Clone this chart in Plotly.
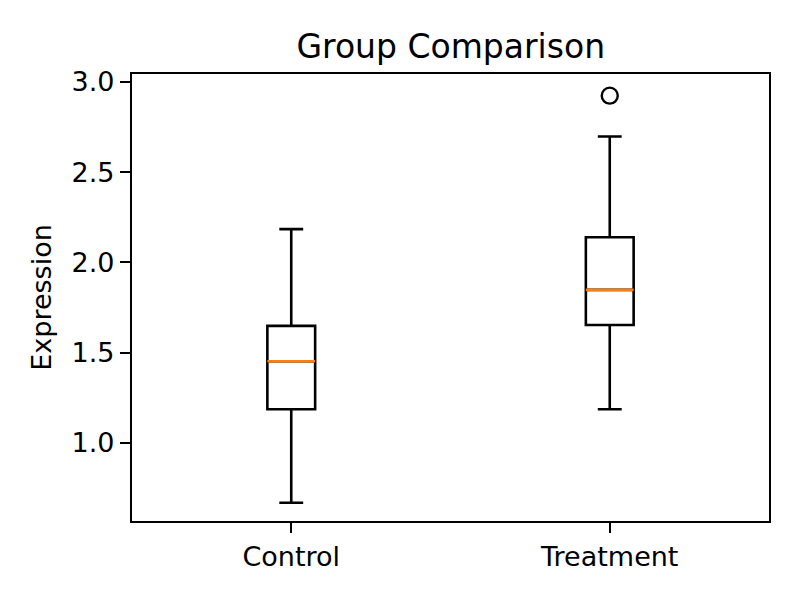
import plotly.graph_objects as go

groups = ["Control", "Treatment"]
positions = [1, 2]
q1 = [1.187, 1.654]
median = [1.453, 1.848]
q3 = [1.649, 2.140]
lower_whisker = [0.669, 1.187]
upper_whisker = [2.185, 2.698]
outlier_group = [2]
outlier_values = [2.924]

box_width = 0.15

fig = go.Figure()
for i, g in enumerate(groups):
    fig.add_trace(go.Box(
        x=[positions[i]], q1=[q1[i]], median=[median[i]], q3=[q3[i]],
        lowerfence=[lower_whisker[i]], upperfence=[upper_whisker[i]],
        width=box_width, whiskerwidth=0.5,
        line=dict(color="black", width=2.6), fillcolor="rgba(0,0,0,0)",
        boxpoints=False, name=g, showlegend=False,
    ))

mx, my = [], []
for i in range(len(groups)):
    mx += [positions[i] - box_width / 2, positions[i] + box_width / 2, None]
    my += [median[i], median[i], None]
fig.add_trace(go.Scatter(x=mx, y=my, mode="lines",
                         line=dict(color="#ff7f0e", width=2.6), showlegend=False,
                         hoverinfo="skip"))
fig.add_trace(go.Scatter(x=outlier_group, y=outlier_values, mode="markers",
                         marker=dict(symbol="circle-open", size=16,
                                     line=dict(color="black", width=2.4), color="black"),
                         showlegend=False))

font = "DejaVu Sans"
fig.update_layout(
    width=800, height=600,
    margin=dict(l=132, r=31, t=74, b=79),
    paper_bgcolor="white", plot_bgcolor="white",
    font=dict(family=font, size=27, color="black"),
    title=dict(text="Group Comparison", x=0.5635, xanchor="center",
               y=0.922, yanchor="middle", font=dict(size=33, family=font)),
)
fig.update_xaxes(range=[0.5, 2.5], tickvals=positions, ticktext=groups,
                 tickfont=dict(size=27, family=font),
                 showline=True, linecolor="black", linewidth=2.2, mirror=True,
                 ticks="outside", ticklen=10, tickwidth=2.2, tickcolor="black",
                 showgrid=False, zeroline=False)
fig.update_yaxes(range=[0.568, 3.044], tickvals=[1.0, 1.5, 2.0, 2.5, 3.0],
                 tickformat=".1f", tickfont=dict(size=27, family=font),
                 showline=True, linecolor="black", linewidth=2.2, mirror=True,
                 ticks="outside", ticklen=10, tickwidth=2.2, tickcolor="black",
                 showgrid=False, zeroline=False,
                 title=dict(text="Expression", standoff=12,
                            font=dict(size=27, family=font)))

fig.write_html("out.html")
